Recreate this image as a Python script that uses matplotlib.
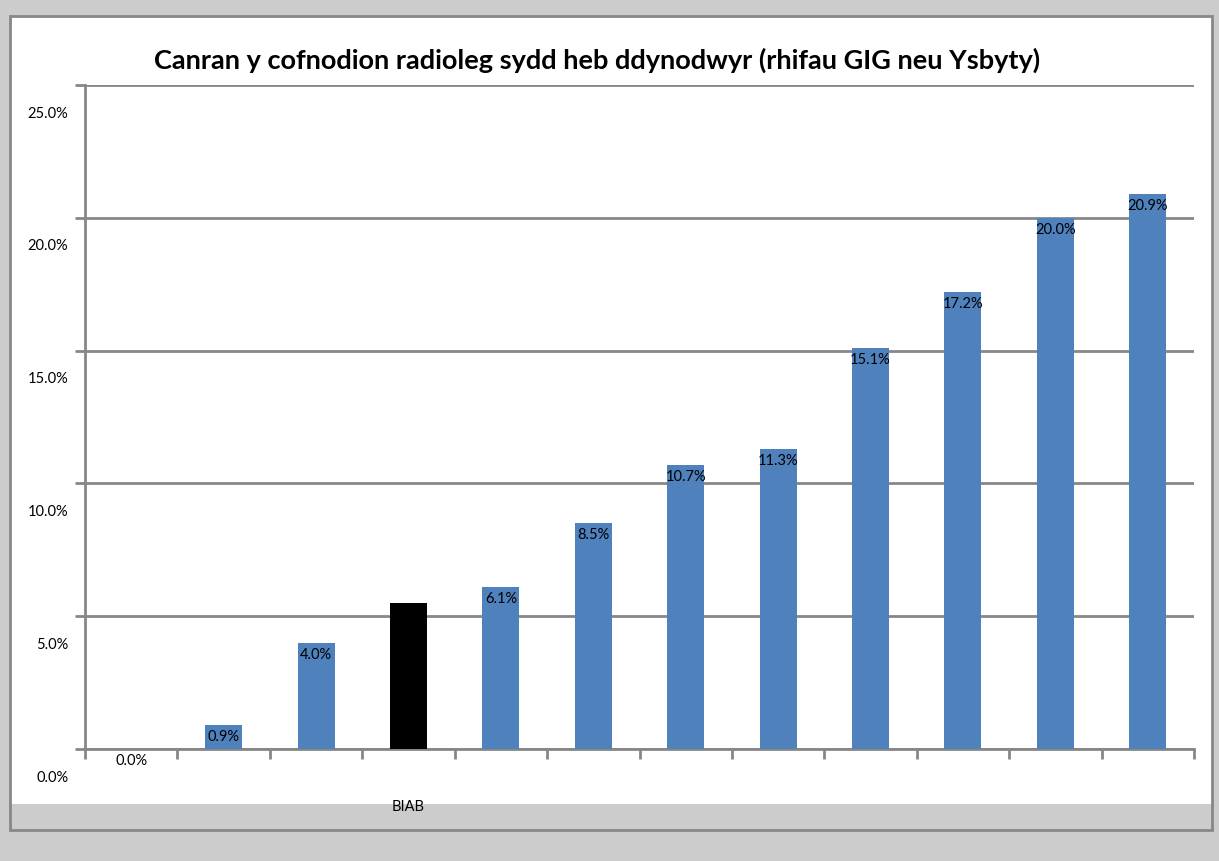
import matplotlib
matplotlib.use('Agg')
import matplotlib.pyplot as plt
import matplotlib.transforms as mtransforms
from matplotlib.patches import Rectangle

# Data
categories = ['', '', '', 'BIAB', '', '', '', '', '', '', '', '']
values = [0.0, 0.9, 4.0, 5.5, 6.1, 8.5, 10.7, 11.3, 15.1, 17.2, 20.0, 20.9]
labels = ['0.0%', '0.9%', '4.0%', '', '6.1%', '8.5%', '10.7%', '11.3%',
          '15.1%', '17.2%', '20.0%', '20.9%']
highlight = 'BIAB'
yticks = [0, 5, 10, 15, 20, 25]

plt.rcParams['font.family'] = ['Lato', 'DejaVu Sans']

W, H = 1219, 861
fig = plt.figure(figsize=(W / 100, H / 100), dpi=100, facecolor='#cccccc')


def fx(px):
    return px / W


def fy(py):
    return 1 - py / H


# white chart panel with grey strip at the bottom and grey frame
fig.patches.append(Rectangle((fx(10), fy(804)), fx(1212) - fx(10), fy(16) - fy(804),
                             transform=fig.transFigure, facecolor='white', edgecolor='none', zorder=-2))
fig.patches.append(Rectangle((fx(10), fy(830)), fx(1212) - fx(10), fy(16) - fy(830),
                             transform=fig.transFigure, facecolor='none', edgecolor='#878787',
                             linewidth=2, zorder=-1))

ax = fig.add_axes([fx(85), fy(749), fx(1194) - fx(85), fy(85) - fy(749)])
ax.set_facecolor('none')

x = list(range(len(values)))
colors = ['black' if c == highlight else '#4f81bd' for c in categories]
bars = ax.bar(x, values, width=0.4, color=colors, zorder=3)

for xi, v, lab in zip(x, values, labels):
    if lab:
        ax.annotate(lab, (xi, v), xytext=(0, -3.5), textcoords='offset points',
                    ha='center', va='top', fontsize=10.5, color='black',
                    annotation_clip=False, zorder=4)

ax.set_xlim(-0.5, len(values) - 0.5)
ax.set_ylim(0, 25)
ax.set_yticks(yticks)
ax.set_yticklabels(['%.1f%%' % t for t in yticks], fontsize=10.5)
ax.grid(axis='y', color='#878787', linewidth=2, zorder=1)
ax.tick_params(axis='y', length=7, width=2, color='#878787', pad=5)

# shift y tick labels down like the original
offset = mtransforms.ScaledTranslation(0, -0.27, fig.dpi_scale_trans)
for lbl in ax.get_yticklabels():
    lbl.set_transform(lbl.get_transform() + offset)

ax.set_xticks(x)
ax.set_xticklabels(categories, fontsize=10.5)
ax.tick_params(axis='x', which='major', length=0, pad=37)
ax.set_xticks([i - 0.5 for i in range(len(values) + 1)], minor=True)
ax.tick_params(axis='x', which='minor', length=7, width=2, color='#878787')

for s in ['top', 'right']:
    ax.spines[s].set_visible(False)
for s in ['left', 'bottom']:
    ax.spines[s].set_color('#878787')
    ax.spines[s].set_linewidth(2)

fig.text(fx(597), fy(60), 'Canran y cofnodion radioleg sydd heb ddynodwyr (rhifau GIG neu Ysbyty)',
         ha='center', va='center', fontsize=19.5, fontweight='bold')

fig.savefig('out.png', dpi=100, facecolor=fig.get_facecolor())
